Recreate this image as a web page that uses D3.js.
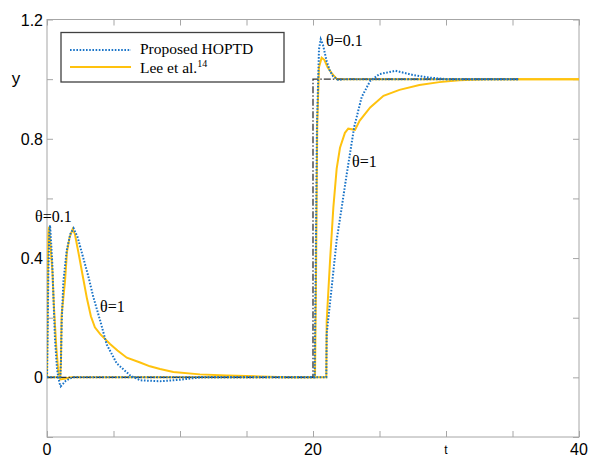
<!DOCTYPE html>
<html>
<head>
<meta charset="utf-8">
<script src="https://cdn.jsdelivr.net/npm/d3@7"></script>
<style>
  body { margin: 0; background: #fff; }
  svg { display: block; }
</style>
</head>
<body>
<div id="chart"></div>
<script>
// setpoint (dash-dot)
let refT = [0, 20, 20, 35.5];
let refY = [0, 0, 1, 1];

// Proposed HOPTD, theta = 0.1
let hopT01 = [0, 0.05, 0.1, 0.17, 0.23, 0.3, 0.4, 0.5, 0.6, 0.75, 0.85, 0.95, 1.03, 1.2, 1.4, 1.7, 2.0,
	20, 20.12, 20.2, 20.3, 20.45, 20.58, 20.75, 20.9, 21.03, 21.25, 21.5, 21.9, 22.4, 35.5];
let hopY01 = [0, 0.15, 0.35, 0.48, 0.51, 0.46, 0.38, 0.25, 0.13, 0.03, 0.0, -0.02, -0.03, -0.022, -0.012, -0.004, 0,
	0, 0, 0.35, 0.85, 1.1, 1.134, 1.115, 1.085, 1.06, 1.03, 1.01, 0.997, 1.0, 1.0];

// Lee et al., theta = 0.1
let leeT01 = [0, 0.05, 0.1, 0.15, 0.25, 0.4, 0.53, 0.7, 0.85, 1.0, 1.3, 1.8,
	20, 20.15, 20.22, 20.32, 20.45, 20.65, 20.85, 21.1, 21.4, 21.8, 40];
let leeY01 = [0, 0.3, 0.48, 0.505, 0.45, 0.36, 0.23, 0.1, 0.02, -0.007, -0.005, 0,
	0, 0, 0.3, 0.85, 1.04, 1.072, 1.065, 1.04, 1.02, 1.0, 1.0];

// Proposed HOPTD, theta = 1
let hopT1 = [0, 1.0, 1.05, 1.1, 1.23, 1.48, 1.75, 2.0, 2.3, 2.73, 3.1, 3.48, 4.0, 4.49, 5.24, 6.24, 7.0, 8.5, 10, 11.5,
	21.0, 21.03, 21.4, 21.78, 22.16, 22.53, 23.1, 23.66, 24.3, 25.0, 26.2, 27.5, 28.8, 30, 35.5];
let hopY1 = [0, 0, 0.05, 0.18, 0.32, 0.425, 0.48, 0.5, 0.47, 0.40, 0.34, 0.27, 0.19, 0.11, 0.047, 0.007, -0.01, -0.013, -0.008, 0,
	0, 0.147, 0.30, 0.46, 0.57, 0.68, 0.84, 0.94, 0.994, 1.017, 1.028, 1.014, 1.005, 1.0, 1.0];

// Lee et al., theta = 1
let leeT1 = [0, 1.0, 1.05, 1.1, 1.35, 1.5, 1.7, 1.93, 2.1, 2.4, 2.73, 3.0, 3.3, 3.6, 4.0, 4.74, 5.3, 6.0, 7.0, 7.74, 8.5, 9.5, 11.5, 13.5, 16, 18,
	21.0, 21.03, 21.28, 21.53, 21.78, 22.03, 22.4, 22.65, 23.16, 23.5, 24.3, 25.3, 26.5, 28.0, 29.5, 31, 33, 40];
let leeY1 = [0, 0, 0.06, 0.21, 0.32, 0.42, 0.47, 0.497, 0.48, 0.41, 0.33, 0.265, 0.205, 0.168, 0.145, 0.112, 0.09, 0.066, 0.05, 0.037, 0.028, 0.018, 0.01, 0.006, 0.003, 0,
	0, 0.19, 0.39, 0.57, 0.70, 0.77, 0.82, 0.834, 0.83, 0.86, 0.905, 0.944, 0.964, 0.98, 0.99, 0.996, 1.0, 1.0];

let xTicks = [0, 5, 10, 15, 20, 25, 30, 35, 40];
let xLabels = [0, 20, 40];
let yTicks = [-0.2, 0, 0.2, 0.4, 0.6, 0.8, 1.0, 1.2];
let yLabels = [0, 0.4, 0.8, 1.2];

let W = 590, H = 457;
let pL = 47, pR = 579, pT = 19.5, pB = 437;

let xs = d3.scaleLinear().domain([0, 40]).range([pL, pR]);
let ys = d3.scaleLinear().domain([-0.2, 1.2]).range([pB, pT]);

let svg = d3.select("#chart").append("svg")
	.attr("width", W)
	.attr("height", H);

svg.append("defs").append("clipPath")
	.attr("id", "clip")
	.append("rect")
	.attr("x", pL).attr("y", pT)
	.attr("width", pR - pL).attr("height", pB - pT);

// frame
svg.append("rect")
	.attr("x", pL).attr("y", pT)
	.attr("width", pR - pL).attr("height", pB - pT)
	.attr("fill", "none")
	.attr("stroke", "#a6a6a6")
	.attr("stroke-width", 1);

// ticks, inward on all four sides
let tickCol = "#a6a6a6", tl = 6;
svg.append("g")
	.attr("transform", "translate(0," + pB + ")")
	.call(d3.axisBottom(xs).tickValues(xTicks).tickSize(-tl).tickFormat(""))
	.call(g => g.select(".domain").remove());
svg.append("g")
	.attr("transform", "translate(0," + pT + ")")
	.call(d3.axisTop(xs).tickValues(xTicks).tickSize(-tl).tickFormat(""))
	.call(g => g.select(".domain").remove());
svg.append("g")
	.attr("transform", "translate(" + pL + ",0)")
	.call(d3.axisLeft(ys).tickValues(yTicks).tickSize(-tl).tickFormat(""))
	.call(g => g.select(".domain").remove());
svg.append("g")
	.attr("transform", "translate(" + pR + ",0)")
	.call(d3.axisRight(ys).tickValues(yTicks).tickSize(-tl).tickFormat(""))
	.call(g => g.select(".domain").remove());
svg.selectAll(".tick line").attr("stroke", tickCol);

// tick labels
svg.selectAll(".xlab")
	.data(xLabels)
	.enter().append("text")
	.attr("x", d => xs(d))
	.attr("y", 455)
	.attr("text-anchor", "middle")
	.attr("font-family", "Liberation Sans, Arial, sans-serif")
	.attr("font-size", 16)
	.text(d => d);

svg.selectAll(".ylab")
	.data(yLabels)
	.enter().append("text")
	.attr("x", 43)
	.attr("y", d => ys(d) + 6)
	.attr("text-anchor", "end")
	.attr("font-family", "Liberation Sans, Arial, sans-serif")
	.attr("font-size", 16)
	.text(d => d);

svg.append("text")
	.attr("x", 16).attr("y", 84)
	.attr("text-anchor", "middle")
	.attr("font-family", "Liberation Sans, Arial, sans-serif")
	.attr("font-size", 17)
	.text("y");

svg.append("text")
	.attr("x", xs(30)).attr("y", 454)
	.attr("text-anchor", "middle")
	.attr("font-family", "Liberation Sans, Arial, sans-serif")
	.attr("font-size", 12)
	.text("t");

// curves
let line = d3.line()
	.x(d => xs(d[0]))
	.y(d => ys(d[1]));

function pairs(ts, vs) {
	return ts.map((t, i) => [t, vs[i]]);
}

let plot = svg.append("g").attr("clip-path", "url(#clip)");

let yellow = "#ffc20e", blue = "#1a74c8";

plot.append("path")
	.datum(pairs(leeT1, leeY1))
	.attr("d", line)
	.attr("fill", "none")
	.attr("stroke", yellow)
	.attr("stroke-width", 2);

plot.append("path")
	.datum(pairs(leeT01, leeY01))
	.attr("d", line)
	.attr("fill", "none")
	.attr("stroke", yellow)
	.attr("stroke-width", 2);

plot.append("path")
	.datum(pairs(refT, refY))
	.attr("d", line)
	.attr("fill", "none")
	.attr("stroke", "#333")
	.attr("stroke-width", 1.3)
	.attr("stroke-dasharray", "7,2,1.5,2");

plot.append("path")
	.datum(pairs(hopT1, hopY1))
	.attr("d", line)
	.attr("fill", "none")
	.attr("stroke", blue)
	.attr("stroke-width", 2)
	.attr("stroke-dasharray", "1.6,1.6");

plot.append("path")
	.datum(pairs(hopT01, hopY01))
	.attr("d", line)
	.attr("fill", "none")
	.attr("stroke", blue)
	.attr("stroke-width", 2)
	.attr("stroke-dasharray", "1.6,1.6");

// annotations
let notes = [
	{t: "θ=0.1", x: 35, y: 222},
	{t: "θ=1", x: 100, y: 312},
	{t: "θ=0.1", x: 326, y: 46},
	{t: "θ=1", x: 352, y: 167}
];
svg.selectAll(".note")
	.data(notes)
	.enter().append("text")
	.attr("x", d => d.x)
	.attr("y", d => d.y)
	.attr("font-family", "Liberation Serif, Times New Roman, serif")
	.attr("font-size", 16)
	.text(d => d.t);

// legend
let lg = svg.append("g");
lg.append("rect")
	.attr("x", 61).attr("y", 32.5)
	.attr("width", 223).attr("height", 49.5)
	.attr("fill", "#fff")
	.attr("stroke", "#404040")
	.attr("stroke-width", 1.3);
lg.append("line")
	.attr("x1", 70).attr("x2", 131).attr("y1", 50).attr("y2", 50)
	.attr("stroke", blue).attr("stroke-width", 2)
	.attr("stroke-dasharray", "1.6,1.6");
lg.append("line")
	.attr("x1", 70).attr("x2", 131).attr("y1", 67).attr("y2", 67)
	.attr("stroke", yellow).attr("stroke-width", 2);
lg.append("text")
	.attr("x", 140).attr("y", 54)
	.attr("font-family", "Liberation Serif, Times New Roman, serif")
	.attr("font-size", 15.5)
	.text("Proposed HOPTD");
let lee = lg.append("text")
	.attr("x", 140).attr("y", 72.5)
	.attr("font-family", "Liberation Serif, Times New Roman, serif")
	.attr("font-size", 15.5);
lee.append("tspan").text("Lee et al.");
lee.append("tspan")
	.attr("font-size", 10)
	.attr("dy", -6)
	.text("14");
</script>
</body>
</html>
